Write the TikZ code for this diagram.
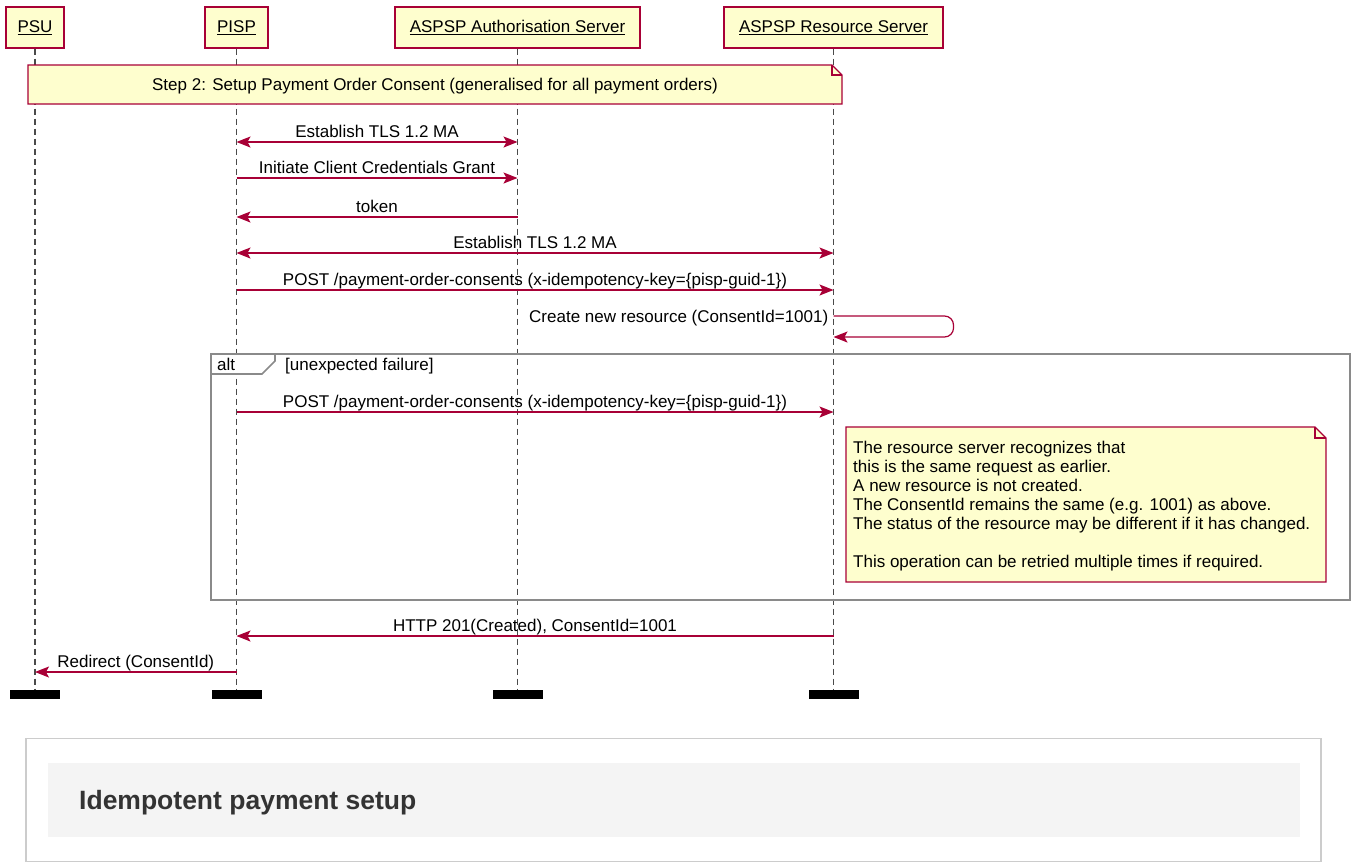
\documentclass[tikz,border=0pt]{standalone}
\usepackage{fontspec}
\setmainfont{Liberation Sans}
\usetikzlibrary{arrows.meta}
\definecolor{plred}{HTML}{A80036}
\definecolor{plfill}{HTML}{FEFECE}
\definecolor{lifegray}{HTML}{4A4A4A}
\definecolor{framegray}{HTML}{8A8A8A}
\definecolor{capborder}{HTML}{CCCCCC}
\definecolor{capfill}{HTML}{F4F4F4}
\definecolor{captext}{HTML}{333333}
\begin{document}
\begin{tikzpicture}[x=1pt,y=-1pt,
  font=\fontsize{17}{19.1}\selectfont,
  actor/.style={draw=plred, fill=plfill, line width=1.4pt, minimum height=41pt, inner sep=0pt},
  lifeline/.style={draw=lifegray, line width=1.6pt, dash pattern=on 6pt off 4pt},
  tip/.tip={Stealth[length=14pt,width=11pt,inset=3pt]},
  msg/.style={draw=plred, line width=1.2pt, -tip},
  msgboth/.style={msg, tip-tip},
  msglabel/.style={anchor=base, inner sep=0pt, yshift=5pt},
  notebody/.style={draw=plred, fill=plfill, line width=1.4pt, line join=miter},
  endbar/.style={fill=black, inner sep=0pt, minimum width=50pt, minimum height=9pt},
  framebox/.style={draw=framegray, line width=1.6pt},
  plain/.style={inner sep=0pt},
]
\useasboundingbox (0,0) rectangle (1351,863);

% participants
\node[actor, minimum width=58pt]  (psu)  at (35,27.5)    {\underline{PSU}};
\node[actor, minimum width=63pt]  (pisp) at (236.5,27.5) {\underline{PISP}};
\node[actor, minimum width=245pt] (auth) at (517.5,27.5) {\underline{ASPSP Authorisation Server}};
\node[actor, minimum width=219pt] (res)  at (833.5,27.5) {\underline{ASPSP Resource Server}};

% lifelines and their end bars
\foreach \p in {psu,pisp,auth,res}{
  \coordinate (\p end) at (\p |- 0,690);
  \draw[lifeline] (\p.south) -- (\p end);
  \node[endbar, anchor=north] (\p bar) at (\p end) {};
}

% step note
\path[notebody] (28,65) -- (832,65) -- (842,75) -- (842,104) -- (28,104) -- cycle;
\draw[plred, line width=1.4pt] (832,65) -- (832,75) -- (842,75);
\node[plain, anchor=base] (step2) at (435,90.7)
  {Step 2: Setup Payment Order Consent (generalised for all payment orders)};

% messages
\coordinate (tlsA1) at (pisp |- 0,142);  \coordinate (tlsA2) at (auth |- 0,142);
\draw[msgboth] (tlsA1) -- (tlsA2) node[msglabel, midway] {Establish TLS 1.2 MA};

\coordinate (ccg1) at (pisp |- 0,178);  \coordinate (ccg2) at (auth |- 0,178);
\draw[msg] (ccg1) -- (ccg2) node[msglabel, midway] {Initiate Client Credentials Grant};

\coordinate (tok1) at (auth |- 0,217);  \coordinate (tok2) at (pisp |- 0,217);
\draw[msg] (tok1) -- (tok2) node[msglabel, midway] {token};

\coordinate (tlsB1) at (pisp |- 0,253);  \coordinate (tlsB2) at (res |- 0,253);
\draw[msgboth] (tlsB1) -- (tlsB2) node[msglabel, midway] {Establish TLS 1.2 MA};

\coordinate (postA1) at (pisp |- 0,290);  \coordinate (postA2) at (res |- 0,290);
\draw[msg] (postA1) -- (postA2) node[msglabel, midway] {POST /payment-order-consents (x-idempotency-key=\{pisp-guid-1\})};

% self message on the resource server
\coordinate (self1) at (res |- 0,316);  \coordinate (self2) at (res |- 0,337);
\draw[msg, rounded corners=9pt] (self1) -- ++(120,0) |- (self2);
\node[plain, anchor=base east] (selflabel) at ([xshift=-5pt]res |- 0,322.7) {Create new resource (ConsentId=1001)};

% alt fragment
\draw[framebox] (211,354) rectangle (1350,600);
\path[framebox, fill=white] (211,354) -- (275,354) -- (275,361) -- (262,374) -- (211,374) -- cycle;
\node[plain, anchor=base west] (altkw) at (217,370.7) {alt};
\node[plain, anchor=base west] (altguard) at (285,370.7) {[unexpected failure]};

\coordinate (postB1) at (pisp |- 0,412);  \coordinate (postB2) at (res |- 0,412);
\draw[msg] (postB1) -- (postB2) node[msglabel, midway] {POST /payment-order-consents (x-idempotency-key=\{pisp-guid-1\})};

% note inside the fragment
\path[notebody] (846,427) -- (1315,427) -- (1326,438) -- (1326,582) -- (846,582) -- cycle;
\draw[plred, line width=1.4pt] (1315,427) -- (1315,438) -- (1326,438);
\node[plain, anchor=north west, align=left] (dupnote) at (853,440.5)
  {The resource server recognizes that\\
   this is the same request as earlier.\\
   A new resource is not created.\\
   The ConsentId remains the same (e.g. 1001) as above.\\
   The status of the resource may be different if it has changed.\\
   \\
   This operation can be retried multiple times if required.};

% responses
\coordinate (http1) at (res |- 0,636);  \coordinate (http2) at (pisp |- 0,636);
\draw[msg] (http1) -- (http2) node[msglabel, midway] {HTTP 201(Created), ConsentId=1001};

\coordinate (redir1) at (pisp |- 0,672);  \coordinate (redir2) at (psu |- 0,672);
\draw[msg] (redir1) -- (redir2) node[msglabel, midway] {Redirect (ConsentId)};

% caption panel
\draw[capborder, line width=1.5pt] (26,738.5) rectangle (1321,861.5);
\fill[capfill] (48,763) rectangle (1300,837);
\node[plain, anchor=base west, text=captext, font=\fontsize{26.5}{31}\selectfont\bfseries] (caption) at (79,809)
  {Idempotent payment setup};
\end{tikzpicture}
\end{document}
